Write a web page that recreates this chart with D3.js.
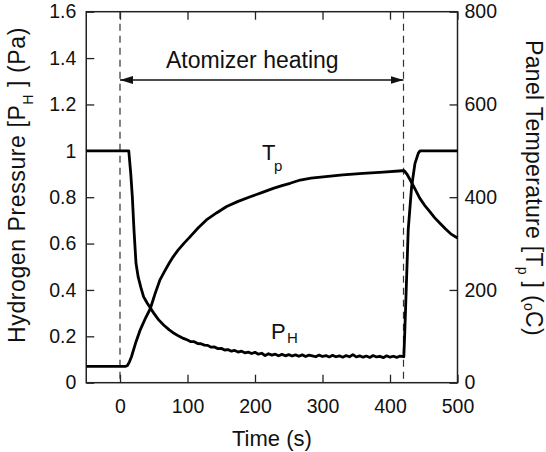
<!DOCTYPE html>
<html>
<head>
<meta charset="utf-8">
<script src="https://cdn.jsdelivr.net/npm/d3@7"></script>
<style>
  body { margin: 0; background: #fff; }
  svg { display: block; }
</style>
</head>
<body>
<div id="chart"></div>
<script>
// hydrogen pressure P_H (Pa) vs time (s)
var timeP = [-50, 13, 16, 18.3, 20.7, 23.7, 27, 31, 35, 40, 45, 50, 57, 65, 73, 80, 87, 94,
  100, 105, 110, 115, 120, 125, 130, 135, 140, 145, 150, 155, 160, 165, 170, 175, 180, 185,
  190, 195, 200, 205, 210, 215, 220, 225, 230, 235, 240, 245, 250, 255, 260, 265, 270, 275,
  280, 285, 290, 295, 300, 305, 310, 315, 320, 325, 330, 335, 340, 345, 350, 355, 360, 365,
  370, 375, 380, 385, 390, 395, 400, 405, 410, 415, 420.5,
  422, 424, 427, 432, 437, 442, 444.5, 500];
var pressure = [1.0, 1.0, 0.90, 0.80, 0.66, 0.515, 0.455, 0.41, 0.37, 0.345, 0.322, 0.30, 0.272, 0.248, 0.228, 0.213, 0.201, 0.191,
  0.184, 0.177, 0.177, 0.169, 0.168, 0.162, 0.161, 0.153, 0.154, 0.147, 0.148, 0.141, 0.143, 0.136, 0.139, 0.132, 0.136, 0.129,
  0.132, 0.126, 0.131, 0.123, 0.127, 0.117, 0.125, 0.119, 0.123, 0.116, 0.122, 0.116, 0.121, 0.115, 0.120, 0.114, 0.120, 0.113,
  0.119, 0.116, 0.112, 0.119, 0.113, 0.117, 0.111, 0.118, 0.112, 0.116, 0.110, 0.117, 0.112, 0.121, 0.111, 0.116, 0.110, 0.115,
  0.109, 0.117, 0.111, 0.114, 0.108, 0.116, 0.110, 0.114, 0.109, 0.115, 0.112,
  0.227, 0.40, 0.66, 0.845, 0.946, 0.99, 1.0, 1.0];

// panel temperature T_p (oC) vs time (s)
var timeT = [-50, 8, 11, 14, 17, 23, 30, 38, 45, 52, 59, 66, 73, 79, 86, 95, 104, 116, 128, 143,
  158, 175, 193, 210, 227, 240, 252, 267, 283, 301, 330, 360, 390, 418, 421,
  425, 430, 437, 444, 451, 459, 466, 474, 482, 490, 500];
var temperature = [35, 35, 37, 45, 56, 85, 114, 140, 160, 192, 221, 240, 258, 272, 286, 301, 315, 334, 351, 366,
  380, 391, 401, 410, 419, 425, 430, 437, 441, 444, 448, 451.5, 454, 457, 457,
  450, 437, 418, 398, 383, 369, 356, 344, 332, 321, 312];

var xTicks = [0, 100, 200, 300, 400, 500];
var pTicks = [0, 0.2, 0.4, 0.6, 0.8, 1.0, 1.2, 1.4, 1.6];
var pTickLabels = ["0", "0.2", "0.4", "0.6", "0.8", "1", "1.2", "1.4", "1.6"];
var tTicks = [0, 200, 400, 600, 800];
var heatStart = 0, heatEnd = 420;

var W = 546, H = 452;
var x0 = 86.25, x1 = 457.5, yTop = 11.7, yBot = 382.7;
var FONT = "'Liberation Sans', Arial, Helvetica, sans-serif";

var svg = d3.select("#chart").append("svg")
    .attr("width", W).attr("height", H);
svg.append("rect").attr("width", W).attr("height", H).attr("fill", "#fff");

var x = d3.scaleLinear().domain([-50, 500]).range([x0, x1]);
var yP = d3.scaleLinear().domain([0, 1.6]).range([yBot, yTop]);
var yT = d3.scaleLinear().domain([0, 800]).range([yBot, yTop]);

function styleAxis(g) {
  g.select(".domain").remove();
  g.selectAll(".tick line").attr("stroke", "#222").attr("stroke-width", 1.3);
  g.selectAll(".tick text").style("font", "19.5px " + FONT).attr("fill", "#111");
}

// axes, ticks pointing inward
svg.append("g")
    .attr("transform", "translate(0," + yBot + ")")
    .call(d3.axisBottom(x).tickValues(xTicks).tickSizeInner(-8).tickSizeOuter(0).tickPadding(16))
    .call(styleAxis);
svg.append("g")
    .attr("transform", "translate(0," + yTop + ")")
    .call(d3.axisTop(x).tickValues(xTicks).tickSizeInner(-8).tickSizeOuter(0).tickFormat(""))
    .call(styleAxis);
svg.append("g")
    .attr("transform", "translate(" + x0 + ",0)")
    .call(d3.axisLeft(yP).tickValues(pTicks).tickFormat(function(d, i) { return pTickLabels[i]; })
      .tickSizeInner(-8).tickSizeOuter(0).tickPadding(10))
    .call(styleAxis);
svg.append("g")
    .attr("transform", "translate(" + x1 + ",0)")
    .call(d3.axisRight(yT).tickValues(tTicks).tickSizeInner(-8).tickSizeOuter(0).tickPadding(7))
    .call(styleAxis);

// frame
svg.append("rect")
    .attr("x", x0).attr("y", yTop)
    .attr("width", x1 - x0).attr("height", yBot - yTop)
    .attr("fill", "none").attr("stroke", "#222").attr("stroke-width", 1.5);

// dashed heating markers
svg.selectAll("line.marker")
  .data([heatStart, heatEnd])
  .enter().append("line")
    .attr("class", "marker")
    .attr("x1", function(d) { return x(d); }).attr("x2", function(d) { return x(d); })
    .attr("y1", yTop).attr("y2", yBot)
    .attr("stroke", "#333").attr("stroke-width", 1.2)
    .attr("stroke-dasharray", "7,5");

// double arrow
var defs = svg.append("defs");
defs.append("marker")
    .attr("id", "arrowhead")
    .attr("viewBox", "0 0 13 8")
    .attr("refX", 13).attr("refY", 4)
    .attr("markerWidth", 13).attr("markerHeight", 8)
    .attr("markerUnits", "userSpaceOnUse")
    .attr("orient", "auto-start-reverse")
  .append("path")
    .attr("d", "M0,0L13,4L0,8Z")
    .attr("fill", "#111");
svg.append("line")
    .attr("x1", x(heatStart)).attr("x2", x(heatEnd))
    .attr("y1", 80).attr("y2", 80)
    .attr("stroke", "#111").attr("stroke-width", 1.3)
    .attr("marker-start", "url(#arrowhead)")
    .attr("marker-end", "url(#arrowhead)");
svg.append("text")
    .attr("x", x(heatStart) + 46).attr("y", 68)
    .style("font", "23px " + FONT).attr("fill", "#111")
    .text("Atomizer heating");

// curves
var lineP = d3.line()
    .x(function(d) { return x(d[0]); })
    .y(function(d) { return yP(d[1]); });
var lineT = d3.line()
    .x(function(d) { return x(d[0]); })
    .y(function(d) { return yT(d[1]); });

svg.append("path")
    .datum(d3.zip(timeP, pressure))
    .attr("d", lineP)
    .attr("fill", "none").attr("stroke", "#000")
    .attr("stroke-width", 2.8).attr("stroke-linejoin", "round");
svg.append("path")
    .datum(d3.zip(timeT, temperature))
    .attr("d", lineT)
    .attr("fill", "none").attr("stroke", "#000")
    .attr("stroke-width", 2.8).attr("stroke-linejoin", "round");

// curve labels
var tLab = svg.append("text").style("font", "22px " + FONT).attr("fill", "#111");
tLab.append("tspan").attr("x", 262).attr("y", 160).text("T");
tLab.append("tspan").attr("x", 274).attr("y", 171).style("font-size", "15px").text("p");
var pLab = svg.append("text").style("font", "22px " + FONT).attr("fill", "#111");
pLab.append("tspan").attr("x", 271).attr("y", 339).text("P");
pLab.append("tspan").attr("x", 287).attr("y", 343).style("font-size", "15px").text("H");

// axis titles
svg.append("text")
    .attr("x", (x0 + x1) / 2).attr("y", 446)
    .attr("text-anchor", "middle")
    .style("font", "22px " + FONT).attr("fill", "#111")
    .text("Time (s)");

var leftTitle = svg.append("text")
    .attr("transform", "translate(25,185) rotate(-90)")
    .attr("text-anchor", "middle")
    .style("font", "23px " + FONT).style("letter-spacing", "0.6px").attr("fill", "#111");
leftTitle.append("tspan").text("Hydrogen Pressure [P");
leftTitle.append("tspan").attr("dy", 8).style("font-size", "14px").text("H");
leftTitle.append("tspan").attr("dy", -8).text(" ] (Pa)");

var rightTitle = svg.append("text")
    .attr("transform", "translate(526,188) rotate(90)")
    .attr("text-anchor", "middle")
    .style("font", "23px " + FONT).style("letter-spacing", "0.3px").attr("fill", "#111");
rightTitle.append("tspan").text("Panel Temperature [T");
rightTitle.append("tspan").attr("dy", 8).style("font-size", "14px").text("p");
rightTitle.append("tspan").attr("dy", -8).text(" ] (");
rightTitle.append("tspan").attr("dy", 2).style("font-size", "14px").text("o");
rightTitle.append("tspan").attr("dy", -2).text("C)");
</script>
</body>
</html>
